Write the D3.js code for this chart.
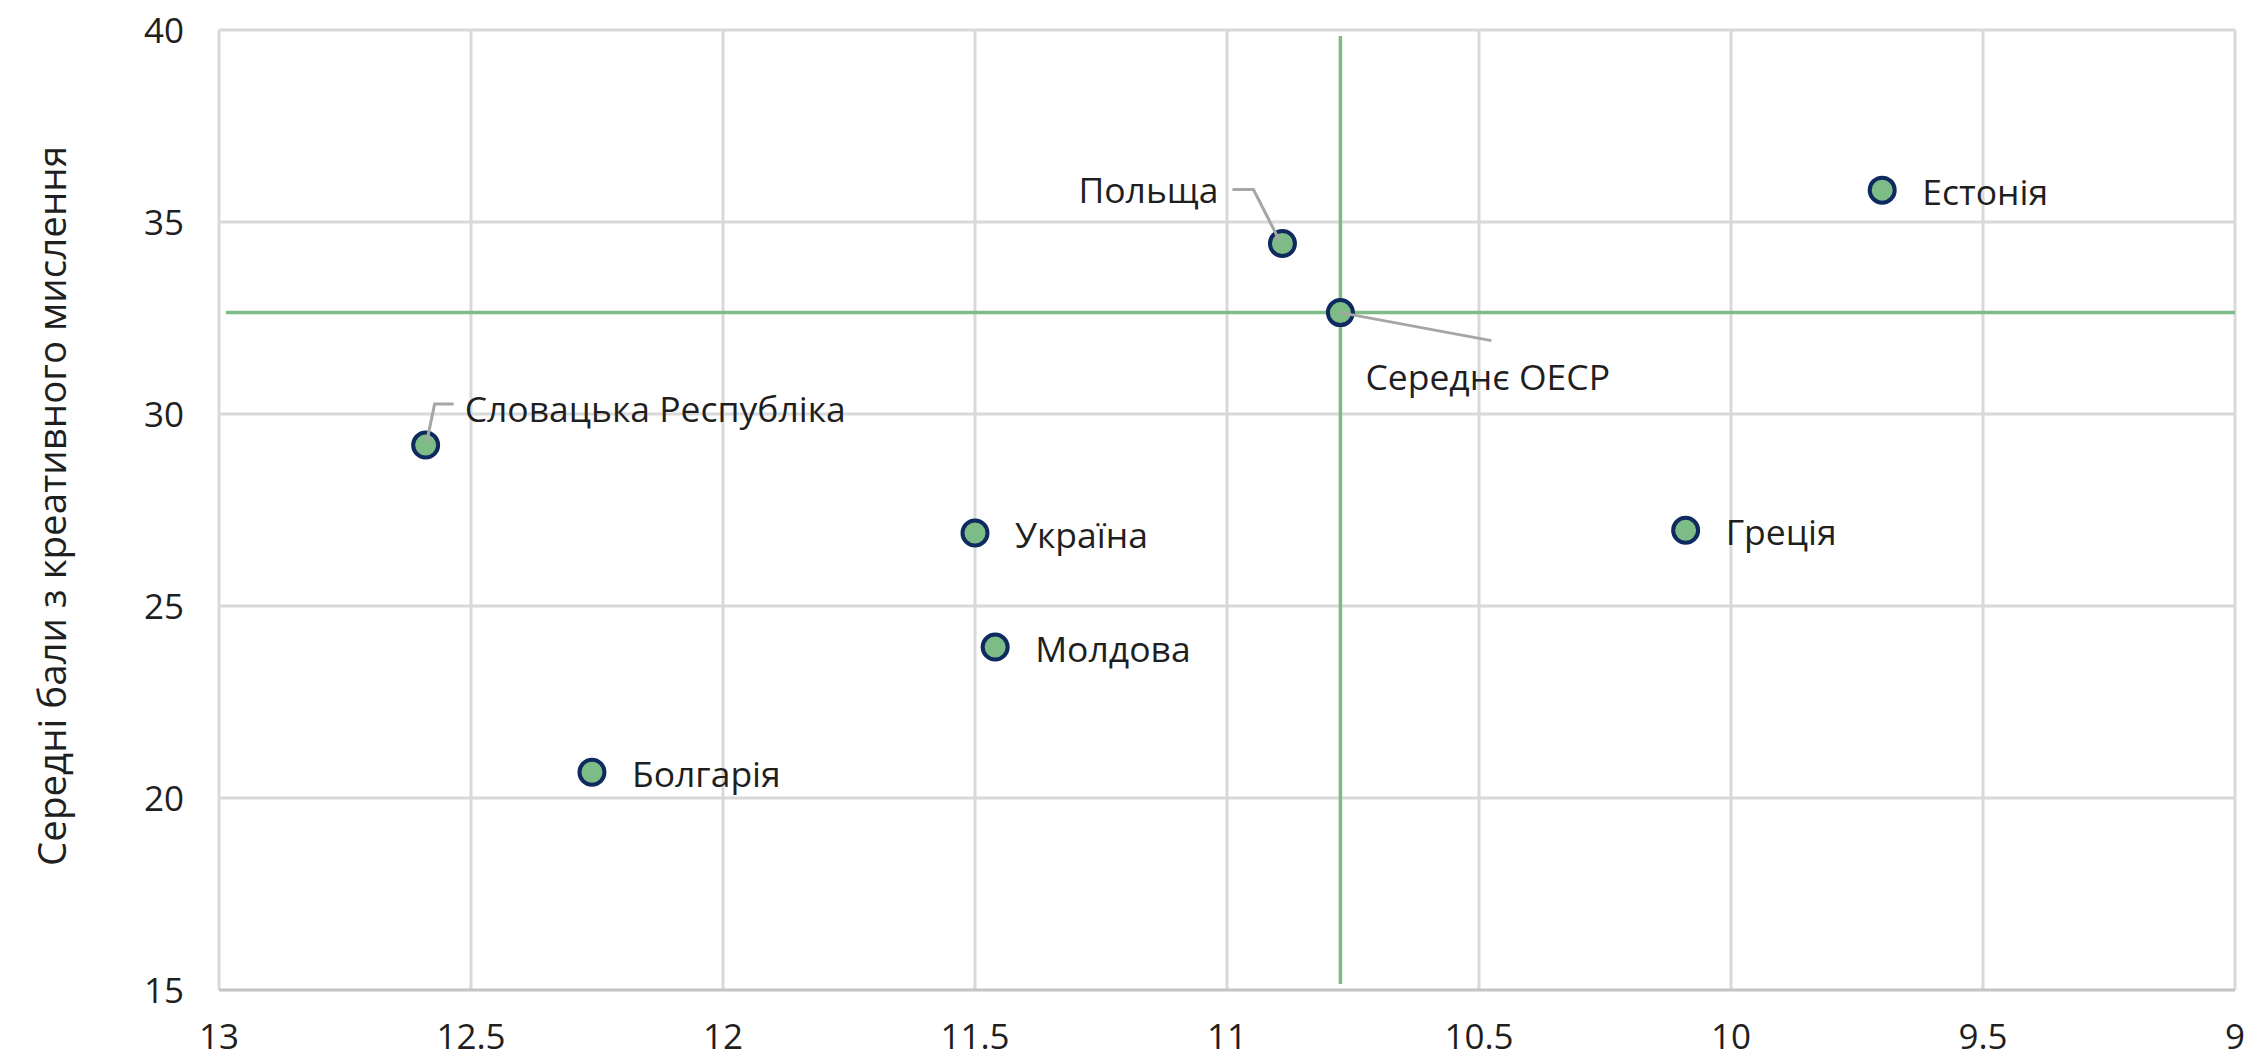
<!DOCTYPE html>
<html><head><meta charset="utf-8">
<script src="https://cdn.jsdelivr.net/npm/d3@7"></script>
<style>
html,body{margin:0;padding:0;background:#fff;}
svg{display:block;}
text{font-family:"Open Sans","Noto Sans",sans-serif;}
</style></head>
<body>
<script>
// ---- data ----
const countries = ["Естонія","Польща","Середнє ОЕСР","Словацька Республіка","Україна","Греція","Молдова","Болгарія"];
const xValues = [9.70, 10.89, 10.775, 12.59, 11.50, 10.09, 11.46, 12.26];
const yValues = [35.83, 34.44, 32.64, 29.19, 26.90, 26.97, 23.93, 20.67];
const xTicks = [13, 12.5, 12, 11.5, 11, 10.5, 10, 9.5, 9];
const yTicks = [15, 20, 25, 30, 35, 40];
const yTitle = "Середні бали з креативного мислення";
const oecdIndex = 2;

// ---- layout ----
const W = 2262, H = 1061;
const L = 219, R = 2235, T = 30, B = 990;
const svg = d3.select("body").append("svg").attr("width", W).attr("height", H);

const x = d3.scaleLinear().domain([13, 9]).range([L, R]);
const y = d3.scaleLinear().domain([15, 40]).range([B, T]);

const grid = "#d9d9d9";
svg.append("g").selectAll("line").data(xTicks).join("line")
  .attr("x1", d => x(d)).attr("x2", d => x(d)).attr("y1", T).attr("y2", B)
  .attr("stroke", grid).attr("stroke-width", 3);
svg.append("g").selectAll("line").data(yTicks).join("line")
  .attr("x1", L).attr("x2", R).attr("y1", d => y(d)).attr("y2", d => y(d))
  .attr("stroke", d => d === 15 ? "#c4c4c4" : grid).attr("stroke-width", 3);

const labelColor = "#1f1f1f";
svg.append("g").selectAll("text").data(yTicks).join("text")
  .attr("x", 184).attr("y", d => y(d)).attr("dy", "0.36em")
  .attr("text-anchor", "end").attr("font-size", 35).attr("fill", labelColor)
  .text(d => d);
svg.append("g").selectAll("text").data(xTicks).join("text")
  .attr("x", d => x(d)).attr("y", 1036).attr("dy", "0.36em")
  .attr("text-anchor", "middle").attr("font-size", 35).attr("fill", labelColor)
  .text(d => d);

svg.append("text")
  .attr("transform", `translate(52,${(T + B) / 2 - 4}) rotate(-90)`)
  .attr("text-anchor", "middle").attr("dy", "0.36em")
  .attr("font-size", 38.5).attr("fill", labelColor)
  .text(yTitle);

// OECD reference lines
const green = "#7dbb87";
const ox = x(xValues[oecdIndex]), oy = y(yValues[oecdIndex]);
svg.append("line").attr("x1", L + 7).attr("x2", R).attr("y1", oy).attr("y2", oy)
  .attr("stroke", green).attr("stroke-width", 3.5);
svg.append("line").attr("x1", ox).attr("x2", ox).attr("y1", T + 6).attr("y2", B - 6)
  .attr("stroke", green).attr("stroke-width", 3.5);

const labelLayout = {
  "Польща": {dx: -64, dy: -53, anchor: "end", leader: [[-50,-54],[-29,-54],[-3,-3]]},
  "Середнє ОЕСР": {dx: 25, dy: 65, anchor: "start", leader: [[0,0],[151,28]]},
  "Словацька Республіка": {dx: 39, dy: -36, anchor: "start", leader: [[28,-41],[9,-41],[1,-3]]}
};

const pts = countries.map((c, i) => ({name: c, px: x(xValues[i]), py: y(yValues[i])}));

svg.append("g").selectAll("circle").data(pts).join("circle")
  .attr("cx", d => d.px).attr("cy", d => d.py).attr("r", 12.5)
  .attr("fill", green).attr("stroke", "#0e2a5e").attr("stroke-width", 4);

pts.forEach(p => {
  const lay = labelLayout[p.name];
  if (lay && lay.leader) {
    svg.append("path")
      .attr("d", d3.line()(lay.leader.map(([a, b]) => [p.px + a, p.py + b])))
      .attr("fill", "none").attr("stroke", "#a6a6a6").attr("stroke-width", 3);
  }
});

svg.append("g").selectAll("text").data(pts).join("text")
  .attr("x", d => d.px + (labelLayout[d.name] ? labelLayout[d.name].dx : 40))
  .attr("y", d => d.py + (labelLayout[d.name] ? labelLayout[d.name].dy : 2))
  .attr("dy", "0.36em")
  .attr("text-anchor", d => labelLayout[d.name] ? labelLayout[d.name].anchor : "start")
  .attr("font-size", 35.5).attr("fill", labelColor)
  .text(d => d.name);
</script>
</body></html>
